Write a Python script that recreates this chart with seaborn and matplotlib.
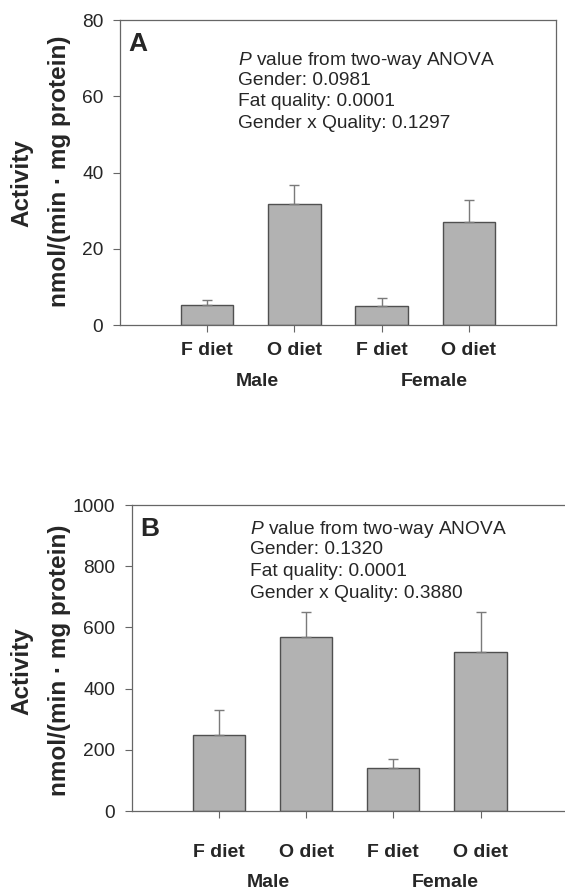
import matplotlib
matplotlib.use("Agg")
import matplotlib.pyplot as plt
import seaborn as sns
import pandas as pd

# data
groups = ["Male F", "Male O", "Female F", "Female O"]
diet_labels = ["F diet", "O diet", "F diet", "O diet"]
gender_labels = ["Male", "Female"]

activity_a = [5.2, 31.7, 5.0, 27.0]
sem_a = [1.3, 5.0, 2.0, 5.7]
activity_b = [250, 570, 140, 520]
sem_b = [80, 80, 30, 130]

anova_a = ["Gender: 0.0981", "Fat quality: 0.0001", "Gender x Quality: 0.1297"]
anova_b = ["Gender: 0.1320", "Fat quality: 0.0001", "Gender x Quality: 0.3880"]

yticks_a = [0, 20, 40, 60, 80]
yticks_b = [0, 200, 400, 600, 800, 1000]

sns.set_style("ticks")
plt.rcParams['font.family'] = ['Liberation Sans', 'DejaVu Sans']
plt.rcParams['mathtext.fontset'] = 'custom'
plt.rcParams['mathtext.it'] = 'Liberation Sans:italic'
plt.rcParams['mathtext.rm'] = 'Liberation Sans'

BAR = "#b2b2b2"
EDGE = "#505050"
SPINE = "#666666"

W, H = 565, 893
fig = plt.figure(figsize=(W / 100, H / 100), dpi=100)


def px_axes(left, top, width, height):
    return fig.add_axes([left / W, 1 - (top + height) / H, width / W, height / H])


def draw_panel(ax, vals, errs, yticks, letter, lines, xpad, group_y, line_y,
               right_spine=True):
    df = pd.DataFrame({"group": groups, "activity": vals})
    sns.barplot(data=df, x="group", y="activity", order=groups, color=BAR,
                edgecolor=EDGE, linewidth=1.0, width=0.6, errorbar=None,
                saturation=1, ax=ax)
    xs = range(len(groups))
    ax.errorbar(xs, vals, yerr=[[0] * len(vals), errs], fmt="none",
                ecolor="#7a7a7a", elinewidth=1.0, capsize=3.6, capthick=1.0,
                zorder=1)
    ax.set_xlim(-1, 4)
    ax.set_ylim(yticks[0], yticks[-1])
    ax.set_yticks(yticks)
    ax.set_yticklabels([str(t) for t in yticks], fontsize=13.8)
    ax.set_xticks(list(xs))
    ax.set_xticklabels(diet_labels, fontsize=14, fontweight="bold")
    ax.set_xlabel("")
    ax.set_ylabel("")
    ax.tick_params(axis="y", length=5, width=0.8, color=SPINE, pad=7,
                   direction="out")
    ax.tick_params(axis="x", length=5, width=0.8, color=SPINE, pad=xpad,
                   direction="out")
    for s in ax.spines.values():
        s.set_visible(True)
        s.set_color(SPINE)
        s.set_linewidth(0.9)
    ax.spines["right"].set_visible(right_spine)

    ax.text(0.02, 0.92, letter, transform=ax.transAxes, fontsize=19,
            fontweight="bold", va="center", ha="left")
    texts = [r"$\mathit{P}$ value from two-way ANOVA"] + lines
    for t, yy in zip(texts, line_y):
        ax.text(0.271, yy, t, transform=ax.transAxes, fontsize=13.8,
                va="center_baseline", ha="left")

    tr = ax.get_xaxis_transform()
    for g, gx in zip(gender_labels, [0.57, 2.6]):
        ax.text(gx, group_y, g, transform=tr, fontsize=14, fontweight="bold",
                ha="center", va="center")


ax_a = px_axes(120, 20, 436, 305)
draw_panel(ax_a, activity_a, sem_a, yticks_a, "A", anova_a, 7, -0.184,
           [0.878, 0.808, 0.739, 0.668])

ax_b = px_axes(131.7, 505, 436, 306)
draw_panel(ax_b, activity_b, sem_b, yticks_b, "B", anova_b, 19, -0.235,
           [0.93, 0.861, 0.789, 0.718], right_spine=False)

# two-line y labels, placed by pixel position
for act_y, unit_y in [(183, 171.5), (671, 660)]:
    fig.text(22 / W, 1 - act_y / H, "Activity", rotation=90, fontsize=17.5,
             fontweight="bold", ha="center", va="center")
    fig.text(60 / W, 1 - unit_y / H, "nmol/(min · mg protein)", rotation=90,
             fontsize=17.5, fontweight="bold", ha="center", va="center")

fig.savefig("out.png", dpi=100)
